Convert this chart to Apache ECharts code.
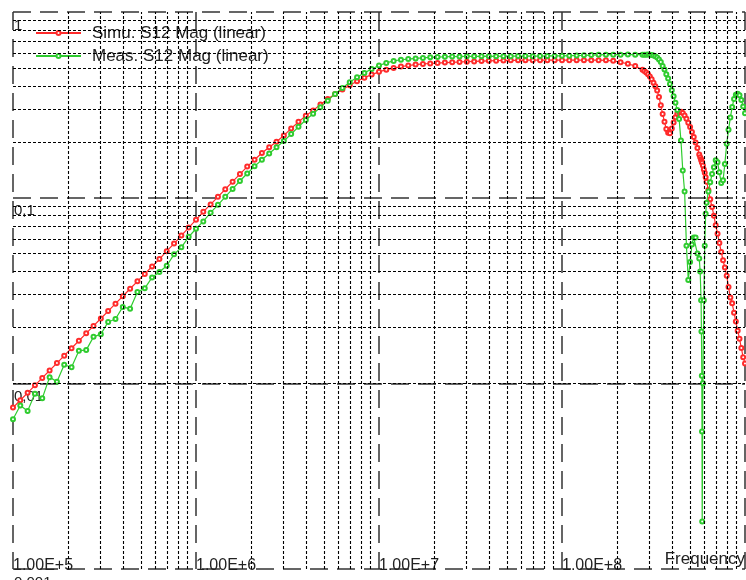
<!DOCTYPE html>
<html><head><meta charset="utf-8">
<script src="https://cdn.jsdelivr.net/npm/echarts@6/dist/echarts.min.js"></script>
<style>html,body{margin:0;padding:0;background:#fff}#c{width:746px;height:580px}</style>
</head><body><div id="c"></div>
<script>
// Frequency samples (Hz)
const freq = [
 1.000e5,1.096e5,1.202e5,1.318e5,1.445e5,1.585e5,1.738e5,1.905e5,2.089e5,2.291e5,2.512e5,2.754e5,3.020e5,3.311e5,3.631e5,3.981e5,4.365e5,4.786e5,5.248e5,5.754e5,6.310e5,6.918e5,7.586e5,8.318e5,9.120e5,
 1.000e6,1.096e6,1.202e6,1.318e6,1.445e6,1.585e6,1.738e6,1.905e6,2.089e6,2.291e6,2.512e6,2.754e6,3.020e6,3.311e6,3.631e6,3.981e6,4.365e6,4.786e6,5.248e6,5.754e6,6.310e6,6.918e6,7.586e6,8.318e6,9.120e6,
 1.000e7,1.096e7,1.202e7,1.318e7,1.445e7,1.585e7,1.738e7,1.905e7,2.089e7,2.291e7,2.512e7,2.754e7,3.020e7,3.311e7,3.631e7,3.981e7,4.365e7,4.786e7,5.248e7,5.754e7,6.310e7,6.918e7,7.586e7,8.318e7,9.120e7,
 1.000e8,1.096e8,1.202e8,1.318e8,1.445e8,1.585e8,1.738e8,1.905e8,2.089e8,2.291e8,2.512e8,2.754e8,
 2.818e8,2.884e8,2.951e8,3.020e8,3.090e8,3.162e8,3.236e8,3.311e8,3.388e8,3.467e8,3.548e8,3.631e8,3.715e8,3.802e8,3.890e8,3.981e8,4.074e8,4.169e8,4.266e8,4.365e8,4.467e8,4.571e8,4.677e8,4.786e8,4.898e8,5.012e8,5.129e8,5.248e8,5.370e8,5.495e8,5.623e8,
 5.689e8,5.754e8,5.781e8,5.808e8,5.821e8,5.835e8,5.888e8,5.957e8,6.026e8,6.095e8,6.166e8,
 6.310e8,6.457e8,6.607e8,6.761e8,6.918e8,7.079e8,7.244e8,7.413e8,7.586e8,7.762e8,7.943e8,8.128e8,8.318e8,8.511e8,8.710e8,8.913e8,9.120e8,9.333e8,9.550e8,9.772e8,1.000e9
];

// Simu. S12 Mag (linear)
const simuMag = [
 0.0074,0.00811,0.00889,0.00975,0.01069,0.01173,0.01286,0.0141,0.01546,0.01695,0.01859,0.02038,0.02235,0.0245,0.02687,0.02946,0.0323,0.03542,0.03884,0.04258,0.04669,0.0515,0.0566,0.0625,0.069,
 0.076,0.084,0.092,0.101,0.111,0.122,0.134,0.147,0.160,0.174,0.187,0.200,0.216,0.236,0.256,0.276,0.295,0.318,0.340,0.362,0.383,0.403,0.424,0.443,0.460,
 0.476,0.489,0.499,0.508,0.515,0.521,0.525,0.528,0.531,0.534,0.536,0.538,0.540,0.542,0.544,0.546,0.547,0.548,0.549,0.549,0.550,0.550,0.550,0.550,0.550,
 0.550,0.550,0.550,0.550,0.550,0.550,0.549,0.546,0.536,0.526,0.512,0.488,
 0.481,0.472,0.462,0.450,0.434,0.416,0.398,0.378,0.348,0.315,0.282,0.256,0.234,0.224,0.222,0.236,0.254,0.271,0.283,0.288,0.290,0.286,0.277,0.266,0.253,0.240,0.226,0.212,0.198,0.185,0.171,
 0.165,0.161,0.158,0.156,0.155,0.154,0.149,0.142,0.136,0.129,0.122,
 0.110,0.098,0.089,0.080,0.071,0.064,0.057,0.051,0.046,0.042,0.038,0.033,0.029,0.027,0.024,0.0215,0.0192,0.0174,0.0155,0.0138,0.0128
];

// Meas. S12 Mag (linear)
const measMag = [
 0.0064,0.0076,0.0071,0.0088,0.0083,0.0108,0.0102,0.0126,0.0122,0.0150,0.0151,0.0178,0.0184,0.0214,0.0222,0.0258,0.0252,0.0310,0.0325,0.0372,0.0398,0.0430,0.0495,0.0540,0.0615,
 0.0680,0.0745,0.0830,0.0915,0.1010,0.1115,0.1230,0.1350,0.1475,0.1600,0.1730,0.1870,0.2020,0.2200,0.2410,0.2620,0.2830,0.3070,0.3330,0.3620,0.3900,0.4180,0.4450,0.4700,0.4930,
 0.515,0.532,0.545,0.553,0.558,0.562,0.566,0.570,0.572,0.574,0.575,0.576,0.577,0.577,0.577,0.578,0.577,0.578,0.578,0.579,0.579,0.578,0.579,0.580,0.580,
 0.581,0.582,0.583,0.584,0.586,0.588,0.589,0.589,0.589,0.590,0.589,0.589,
 0.589,0.589,0.590,0.589,0.587,0.583,0.578,0.568,0.555,0.538,0.512,0.490,0.462,0.439,0.410,0.379,0.352,0.325,0.297,0.265,0.203,0.140,0.108,0.055,0.036,0.045,0.056,0.061,0.061,0.050,0.047,
 0.040,0.028,0.019,0.011,0.0055,0.0018,0.010,0.028,0.055,0.082,0.094,
 0.108,0.121,0.134,0.146,0.159,0.155,0.137,0.120,0.124,0.152,0.195,0.232,0.270,0.308,0.340,0.358,0.363,0.356,0.336,0.310,0.285
];

const seriesNames = ['Simu. S12 Mag (linear)', 'Meas. S12 Mag (linear)'];
const xTickLabels = ['1.00E+5', '1.00E+6', '1.00E+7', '1.00E+8', ''];
const yTickLabels = ['0,001', '0,01', '0,1', '1'];
const xAxisTitle = 'Frequency';
const minorFreqLines = [2e5,3e5,4e5,5e5,6e5,7e5,8e5,9e5, 2e6,3e6,4e6,5e6,6e6,7e6,8e6,9e6, 2e7,3e7,4e7,5e7,6e7,7e7,8e7,9e7, 2e8,3e8,4e8,5e8,6e8,7e8,8e8,9e8];
const minorMagLines = [0.002,0.003,0.004,0.005,0.006,0.007,0.008,0.009, 0.02,0.03,0.04,0.05,0.06,0.07,0.08,0.09, 0.2,0.3,0.4,0.5,0.6,0.7,0.8,0.9];

const FONT = "'Liberation Sans', Arial, sans-serif";
const RED = '#ff2b2b', GREEN = '#2fcc2f';
const TXT = '#222';

const chart = echarts.init(document.getElementById('c'), null, {renderer: 'canvas'});
const decadeLine = {show: true, lineStyle: {color: '#333', width: 1.5, type: [18, 9]}};

chart.setOption({
  animation: false,
  backgroundColor: '#fff',
  title: {
    text: xAxisTitle, right: 1, top: 551, padding: 0,
    textStyle: {fontFamily: FONT, fontSize: 17, fontWeight: 'normal', color: TXT}
  },
  grid: {left: 13, top: 12, right: 1, bottom: 11, containLabel: false, outerBoundsMode: 'none'},
  legend: {
    data: seriesNames, orient: 'vertical', left: 35, top: 24, padding: 0,
    itemWidth: 45, itemHeight: 5, itemGap: 5,
    textStyle: {fontFamily: FONT, fontSize: 17, color: TXT, lineHeight: 18, padding: [0, 0, 0, 6]}
  },
  xAxis: {
    type: 'log', logBase: 10, min: 1e5, max: 1e9,
    axisLine: {show: false}, axisTick: {show: false},
    splitLine: decadeLine,
    axisLabel: {
      inside: false, margin: -11, align: 'left', verticalAlign: 'top',
      fontFamily: FONT, fontSize: 16, color: TXT,
      formatter: v => xTickLabels[Math.round(Math.log10(v)) - 5] || ''
    }
  },
  yAxis: {
    type: 'log', logBase: 10, min: 0.001, max: 1,
    axisLine: {show: false}, axisTick: {show: false},
    splitLine: decadeLine,
    axisLabel: {
      inside: true, margin: 1, align: 'left', verticalAlign: 'top', padding: [6, 0, 0, 0],
      fontFamily: FONT, fontSize: 15, color: TXT,
      formatter: v => yTickLabels[Math.round(Math.log10(v)) + 3] || ''
    }
  },
  series: [
    {
      type: 'line', data: [], silent: true, z: 1,
      markLine: {
        silent: true, symbol: 'none', animation: false, label: {show: false},
        lineStyle: {color: '#000', width: 1.1, type: [3, 2]},
        emphasis: {disabled: true},
        data: minorFreqLines.map(v => ({xAxis: v})).concat(minorMagLines.map(v => ({yAxis: v})))
      }
    },
    {
      name: seriesNames[0], type: 'line', z: 3,
      data: freq.map((f, i) => [f, simuMag[i]]),
      symbol: 'emptyCircle', symbolSize: 4, showAllSymbol: true,
      lineStyle: {color: RED, width: 1.2},
      itemStyle: {color: RED, borderWidth: 1}
    },
    {
      name: seriesNames[1], type: 'line', z: 4,
      data: freq.map((f, i) => [f, measMag[i]]),
      symbol: 'emptyCircle', symbolSize: 4, showAllSymbol: true,
      lineStyle: {color: GREEN, width: 1.2},
      itemStyle: {color: GREEN, borderWidth: 1}
    }
  ]
});
</script>
</body></html>
